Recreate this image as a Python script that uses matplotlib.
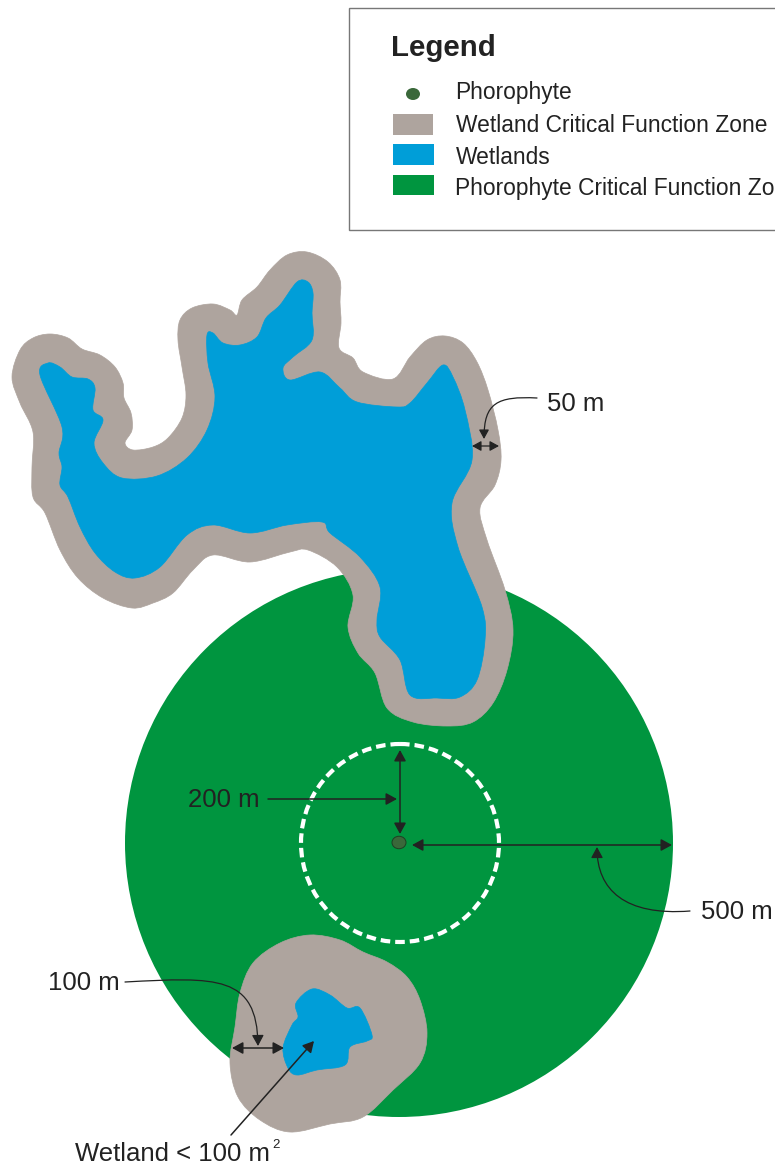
import matplotlib
matplotlib.use("Agg")
import matplotlib.pyplot as plt
from matplotlib.patches import Circle, Ellipse, FancyArrowPatch, PathPatch, Rectangle
from matplotlib.path import Path

plt.rcParams['font.family'] = ['Liberation Sans', 'DejaVu Sans']

GREY = "#aea49e"
BLUE = "#009ed8"
GREEN = "#00953f"
DOT = "#3a683a"
INK = "#222222"

# outlines, in image pixels
big_zone = [(12,377),(20,350),(33,338),(50,334),(68,338),(82,349),(100,355),(115,367),(123,383),(124,398),
            (131,413),(132,430),(125,443),(133,450),(153,447),(168,438),(182,418),(186,395),(182,367),(178,340),
            (180,320),(192,308),(213,304),(230,310),(237,315),(242,300),(257,287),(270,270),(287,255),(307,252),
            (328,262),(340,280),(340,302),(341,323),(339,348),(353,358),(363,372),(393,379),(410,357),(427,340),
            (445,336),(463,343),(477,362),(488,390),(498,430),(501,460),(495,485),(480,508),(487,540),(505,590),
            (513,630),(507,670),(493,703),(473,722),(447,726),(413,722),(387,708),(375,673),(358,653),(348,627),
            (353,595),(337,567),(308,550),(290,552),(250,562),(213,555),(193,570),(173,593),(153,603),(132,608),
            (103,598),(78,578),(60,550),(45,513),(33,497),(32,467),(33,432),(20,403)]
big_wetland = [(40,375),(48,363),(60,367),(72,377),(88,379),(95,388),(93,410),(103,420),(94,443),(103,463),
               (122,478),(157,476),(187,458),(207,430),(215,397),(208,363),(207,335),(213,333),(223,343),(240,345),
               (257,337),(266,318),(280,305),(297,282),(308,282),(313,293),(312,313),(312,340),(293,357),(283,368),
               (290,380),(320,372),(340,388),(357,402),(397,407),(410,403),(427,383),(443,365),(453,377),(465,410),
               (472,460),(452,503),(458,547),(482,607),(485,640),(477,680),(460,697),(437,698),(410,695),(400,660),
               (380,637),(377,620),(380,587),(360,557),(330,533),(322,522),(287,525),(250,533),(213,525),(187,535),
               (160,567),(135,578),(115,572),(95,553),(80,527),(68,497),(60,485),(62,467),(59,453),(62,427)]
small_zone = [(310,935),(340,940),(363,952),(387,962),(407,977),(420,1000),(427,1033),(420,1063),(393,1090),
              (363,1117),(330,1124),(290,1132),(260,1120),(238,1097),(230,1063),(235,1027),(240,993),(253,963),(280,943)]
small_wetland = [(312,989),(330,995),(347,1008),(360,1008),(372,1035),(367,1041),(350,1047),(345,1065),(317,1070),
                 (297,1075),(288,1068),(283,1048),(292,1025),(298,1017),(296,1003)]

legend_labels = ["Phorophyte", "Wetland Critical Function Zone", "Wetlands", "Phorophyte Critical Function Zone"]


def smooth(pts):
    n = len(pts)
    verts = [pts[0]]
    codes = [Path.MOVETO]
    for i in range(n):
        p0, p1, p2, p3 = pts[i-1], pts[i], pts[(i+1) % n], pts[(i+2) % n]
        c1 = (p1[0]+(p2[0]-p0[0])/6, p1[1]+(p2[1]-p0[1])/6)
        c2 = (p2[0]-(p3[0]-p1[0])/6, p2[1]-(p3[1]-p1[1])/6)
        verts += [c1, c2, p2]
        codes += [Path.CURVE4]*3
    return Path(verts, codes)


def blob(pts, color, z):
    ax.add_patch(PathPatch(smooth(pts), fc=color, ec=color, lw=0.5, zorder=z))


def head(style):
    return f'{style},head_length=0.55,head_width=0.3'


def arrow(a, b, style='-|>', lw=1.1, size=12):
    ax.add_patch(FancyArrowPatch(a, b, arrowstyle=head(style), mutation_scale=size, lw=lw, color=INK,
                                 shrinkA=0, shrinkB=0, zorder=6))


def leader(p0, c1, c2, p1, size=12):
    path = Path([p0, c1, c2, p1], [Path.MOVETO, Path.CURVE4, Path.CURVE4, Path.CURVE4])
    ax.add_patch(FancyArrowPatch(path=path, arrowstyle=head('-|>'), mutation_scale=size, lw=0.9, color=INK,
                                 shrinkA=0, shrinkB=0, zorder=6))


fig = plt.figure(figsize=(7.75, 11.67), dpi=100)
ax = fig.add_axes([0, 0, 1, 1])
ax.set_xlim(0, 775)
ax.set_ylim(1167, 0)
ax.axis('off')

ax.add_patch(Circle((399, 843), 274, fc=GREEN, ec='none', zorder=1))
ax.add_patch(Circle((400, 843), 99, fc='none', ec='white', lw=3.0, ls=(0, (2.3, 1.2)), zorder=2))
blob(big_zone, GREY, 3)
blob(big_wetland, BLUE, 4)
blob(small_zone, GREY, 3)
blob(small_wetland, BLUE, 4)
ax.add_patch(Ellipse((399, 842.5), 14, 12.5, fc=DOT, ec='#1d3f22', lw=0.7, zorder=5))

# legend box runs off the right edge
ax.add_patch(Rectangle((349, 8), 440, 222, fc='white', ec='#777777', lw=1.0, zorder=1))
ax.text(391, 48, "Legend", fontsize=21.2, fontweight='bold', color=INK, va='center', ha='left')
ax.add_patch(Ellipse((413, 94), 14, 12, fc=DOT, ec='none', zorder=5))
ax.add_patch(Rectangle((393, 114), 40, 21, fc=GREY, ec='none'))
ax.add_patch(Rectangle((393, 144), 41, 21, fc=BLUE, ec='none'))
ax.add_patch(Rectangle((393, 175), 41, 20, fc=GREEN, ec='none'))
for lab, x, y in zip(legend_labels, [455, 456, 456, 455], [93, 126, 157, 188]):
    ax.text(x, y, lab, fontsize=16.4, color=INK, va='center', ha='left', clip_on=True)

# labels
ax.text(192, 488, "Wetland > 100 m", fontsize=18.5, color=INK, va='center', ha='left')
ax.text(392, 479, "2", fontsize=9.5, color=INK, va='center', ha='left')
ax.text(547, 404, "50 m", fontsize=18.5, color=INK, va='center', ha='left')
ax.text(188, 800, "200 m", fontsize=18.5, color=INK, va='center', ha='left')
ax.text(701, 912, "500 m", fontsize=18.5, color=INK, va='center', ha='left')
ax.text(48, 983, "100 m", fontsize=18.5, color=INK, va='center', ha='left')
ax.text(75, 1154, "Wetland < 100 m", fontsize=18.5, color=INK, va='center', ha='left')
ax.text(272, 1145, "2", fontsize=9.5, color=INK, va='center', ha='left')

# dimension arrows
arrow((472, 446), (499, 446), '<|-|>', 0.9, 10)
arrow((400, 750), (400, 834), '<|-|>')
arrow((412, 845), (672, 845), '<|-|>')
arrow((232, 1048), (284, 1048), '<|-|>')
arrow((268, 799), (397, 799))
arrow((231, 1135), (314, 1041))
leader((537, 398), (497, 396), (484, 403), (484, 439), 10)
leader((690, 911), (625, 916), (597, 890), (597, 847))
leader((125, 982), (217, 977), (257, 975), (258, 1046))

fig.savefig("out.png", dpi=100)
